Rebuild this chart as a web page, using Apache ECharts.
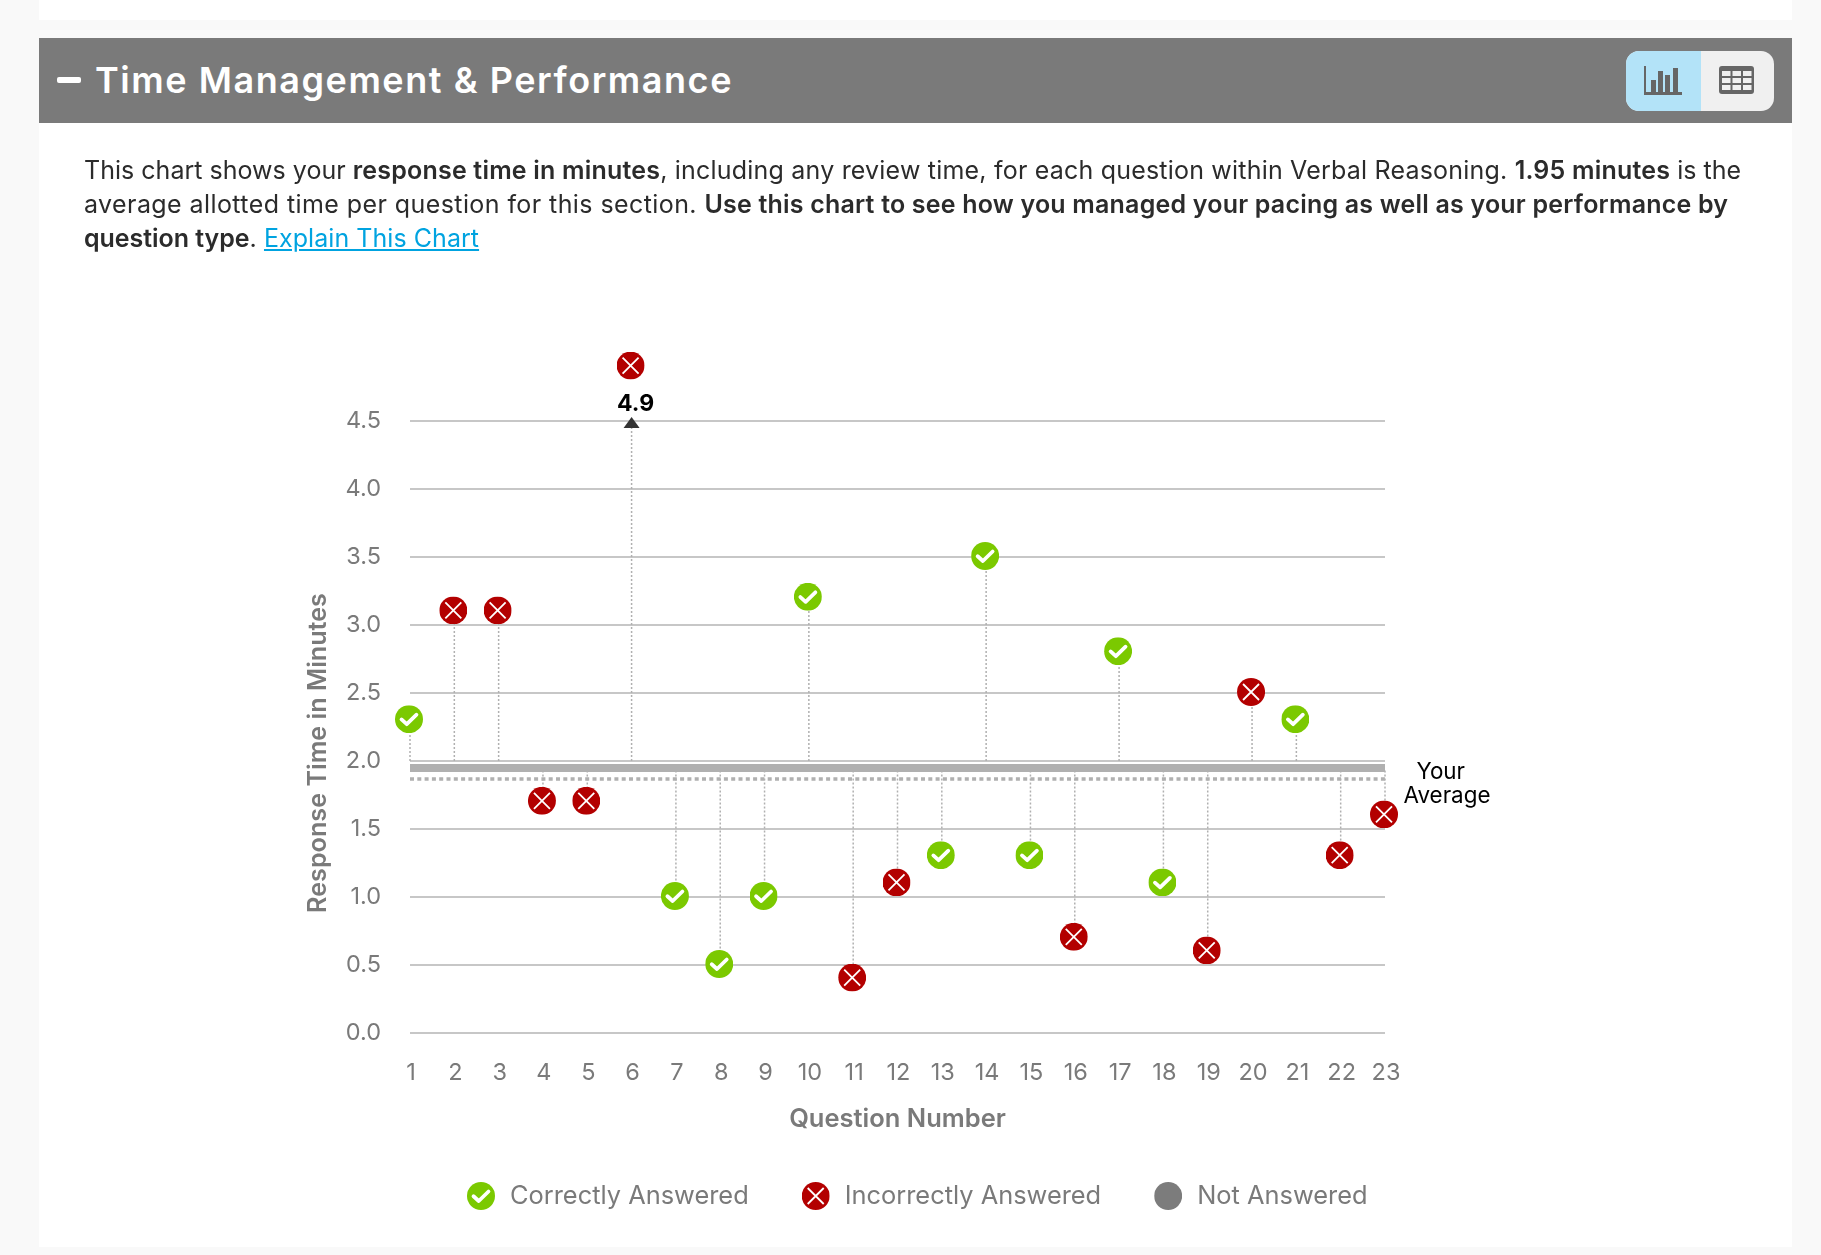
<!DOCTYPE html>
<html><head><meta charset="utf-8">
<script src="https://cdn.jsdelivr.net/npm/echarts@6/dist/echarts.min.js"></script>
<style>
html,body{margin:0;padding:0;background:#f9f9f9;width:1821px;height:1255px;overflow:hidden;font-family:Inter,"Noto Sans",sans-serif}
.abs{position:absolute}
#topcard{left:39px;top:0;width:1753px;height:20px;background:#fff}
#card{left:39px;top:123px;width:1753px;height:1124px;background:#fff}
#head{left:39px;top:38px;width:1753px;height:85px;background:#7a7a7a}
#minus{left:57px;top:77px;width:24px;height:6px;border-radius:2px;background:#fff}
#title{left:95px;top:58px;font-size:36px;line-height:44px;font-weight:600;color:#fff;white-space:nowrap;letter-spacing:1.55px}
#toggle{left:1626px;top:51px;width:148px;height:60px;border-radius:13px;overflow:hidden;background:#f0f0f0}
#toggle i{position:absolute;left:0;top:0;width:75px;height:60px;background:#b3e3f8}
#toggle svg{position:absolute;top:15px}
#para{left:84px;top:153px;font-size:25px;line-height:34px;color:#2b2b2b;white-space:nowrap;z-index:3;letter-spacing:.15px}
#para b{font-weight:600;letter-spacing:.2px}
#para a{color:#00a3e0;text-decoration:underline;letter-spacing:.05px}
#para .a{letter-spacing:.02px}
#para .c{letter-spacing:.2px}
#para .d{letter-spacing:.42px}
#para .e{letter-spacing:-.05px}
#chart{left:0;top:0;width:1821px;height:1255px}
</style></head><body>
<div class="abs" id="topcard"></div><div class="abs" id="card"></div><div class="abs" id="head"></div>
<div class="abs" id="minus"></div>
<div class="abs" id="title">Time Management &amp; Performance</div>
<div class="abs" id="toggle"><i></i>
<svg style="left:18px" width="38" height="29" viewBox="0 0 38 29"><path d="M0 0h2v26h36v3H0z" fill="#666"/><path d="M7 14h5v12H7zM14 5h5v21h-5zM21 9h5v17h-5zM29 2h5v24h-5z" fill="#666"/></svg>
<svg style="left:93px" width="35" height="28" viewBox="0 0 35 28"><rect width="35" height="28" rx="3" fill="#666"/><g fill="#f0f0f0"><rect x="3" y="5" width="8.5" height="5"/><rect x="13.5" y="5" width="8.5" height="5"/><rect x="24" y="5" width="8.5" height="5"/><rect x="3" y="12" width="8.5" height="5"/><rect x="13.5" y="12" width="8.5" height="5"/><rect x="24" y="12" width="8.5" height="5"/><rect x="3" y="19" width="8.5" height="5"/><rect x="13.5" y="19" width="8.5" height="5"/><rect x="24" y="19" width="8.5" height="5"/></g></svg>
</div>
<div class="abs" id="chart"></div>
<div class="abs" id="para"><span class="a">This chart shows your </span><b>response time in minutes</b><span class="c">, including any review time, for each question within Verbal Reasoning. </span><b>1.95 minutes</b><span class="a"> is the</span><br><span class="d">average allotted time per question for this section. </span><b>Use this chart to see how you managed your pacing as well as your performance by<br><span class="e">question type</span></b>. <a href="#">Explain This Chart</a></div>
<script>
var questionNumbers = ['1','2','3','4','5','6','7','8','9','10','11','12','13','14','15','16','17','18','19','20','21','22','23'];
var responseTimes = [2.3,3.1,3.1,1.7,1.7,4.9,1.0,0.5,1.0,3.2,0.4,1.1,1.3,3.5,1.3,0.7,2.8,1.1,0.6,2.5,2.3,1.3,1.6];
var isCorrect = [1,0,0,0,0,0,1,1,1,1,0,0,1,1,1,0,1,1,0,0,1,0,0];
var allottedAverage = 1.95;
var yourAverage = 1.87;
var axisMax = 4.5;

function svgUri(s){return 'image://data:image/svg+xml;charset=utf-8,'+encodeURIComponent(s);}
var checkIcon = svgUri('<svg xmlns="http://www.w3.org/2000/svg" width="56" height="56" viewBox="0 0 56 56"><circle cx="28" cy="28" r="28" fill="#7bc900"/><path d="M13 28.5l10.5 9.5L43 19" fill="none" stroke="#fff" stroke-width="7.5" stroke-linecap="round" stroke-linejoin="round"/></svg>');
var crossIcon = svgUri('<svg xmlns="http://www.w3.org/2000/svg" width="56" height="56" viewBox="0 0 56 56"><circle cx="28" cy="28" r="28" fill="#b30000"/><path d="M12 12L44 44M44 12L12 44" fill="none" stroke="#fff" stroke-width="3.6"/></svg>');
var greyIcon = svgUri('<svg xmlns="http://www.w3.org/2000/svg" width="56" height="56" viewBox="0 0 56 56"><circle cx="28" cy="28" r="28" fill="#7c7c7c"/></svg>');

function pts(flag){
  var out=[];
  responseTimes.forEach(function(v,i){ if(isCorrect[i]===flag) out.push([i,v]); });
  return out;
}
var FONT='Inter';
var chart = echarts.init(document.getElementById('chart'),null,{width:1821,height:1255});
chart.setOption({
  animation:false,
  textStyle:{fontFamily:FONT},
  grid:{left:410,right:436,top:421,bottom:222,containLabel:false},
  legend:{left:462,top:1177,itemWidth:28,itemHeight:28,itemGap:53,
    data:['Correctly Answered','Incorrectly Answered','Not Answered'],
    textStyle:{fontSize:25.4,color:'#7a7a7a',fontFamily:FONT,padding:[0,0,0,10]},selectedMode:false},
  xAxis:{type:'category',data:questionNumbers,boundaryGap:false,
    axisLine:{show:false},axisTick:{show:false},splitLine:{show:false},
    axisLabel:{color:'#7a7a7a',fontSize:23.5,margin:28,interval:0,padding:[0,0,0,2]},
    name:'Question Number',nameLocation:'middle',nameGap:73,
    nameTextStyle:{color:'#7a7a7a',fontSize:25.5,fontWeight:600}},
  yAxis:{type:'value',min:0,max:axisMax,interval:0.5,
    axisLine:{show:false},axisTick:{show:false},
    splitLine:{lineStyle:{color:'#b4b4b4',width:1.5}},
    axisLabel:{color:'#7a7a7a',fontSize:23.5,margin:29,padding:[3,0,0,0],formatter:function(v){return v.toFixed(1);}},
    name:'Response Time in Minutes',nameLocation:'middle',nameGap:79,nameRotate:90,
    nameTextStyle:{color:'#7a7a7a',fontSize:25.2,fontWeight:600,padding:[0,52,0,0]}},
  series:[
    {type:'custom',name:'stems',silent:true,z:2,clip:false,
     data:responseTimes.map(function(v,i){return [i,v];}),
     encode:{x:0,y:1},
     renderItem:function(params,api){
       var i=api.value(0),v=api.value(1);
       var above=v>allottedAverage;
       var start=api.coord([i,above?2.0:1.93]);
       var end=api.coord([i,Math.min(v,axisMax)]);
       var kids=[{type:'line',shape:{x1:start[0],y1:start[1],x2:end[0],y2:end[1]},
         style:{stroke:'#b0b0b0',lineWidth:1.5,lineDash:[2,2]}}];
       if(v>axisMax){
         kids.push({type:'polygon',shape:{points:[[end[0],end[1]-4],[end[0]+8,end[1]+7],[end[0]-8,end[1]+7]]},style:{fill:'#333'}});
         kids.push({type:'text',style:{x:end[0]+4,y:end[1]-17,text:String(v),fill:'#000',font:'700 23px '+FONT,textAlign:'center',textVerticalAlign:'middle'}});
       }
       return {type:'group',children:kids};
     }},
    {type:'scatter',name:'Correctly Answered',symbol:checkIcon,symbolSize:28,symbolOffset:[-1,-1],clip:false,z:5,data:pts(1),
     itemStyle:{color:'#7bc900',opacity:1},
     markLine:{silent:true,symbol:'none',z:1,animation:false,
       data:[
        {yAxis:allottedAverage,lineStyle:{color:'#b0b0b0',width:8,type:'solid',opacity:1},label:{show:false}},
        {yAxis:yourAverage,lineStyle:{color:'#b0b0b0',width:3.5,type:[4,3.3],opacity:1},
         label:{show:true,position:'end',formatter:'Your  \nAverage',color:'#000',fontSize:22.4,lineHeight:24,distance:62,fontFamily:FONT,align:'center',offset:[0,6]}}
       ]}},
    {type:'scatter',name:'Incorrectly Answered',symbol:crossIcon,symbolSize:28,symbolOffset:[-1,-1],clip:false,z:5,data:pts(0),itemStyle:{color:'#b30000',opacity:1}},
    {type:'scatter',name:'Not Answered',symbol:greyIcon,symbolSize:28,clip:false,z:5,data:[],itemStyle:{color:'#7c7c7c',opacity:1}}
  ]
});
</script>
</body></html>
